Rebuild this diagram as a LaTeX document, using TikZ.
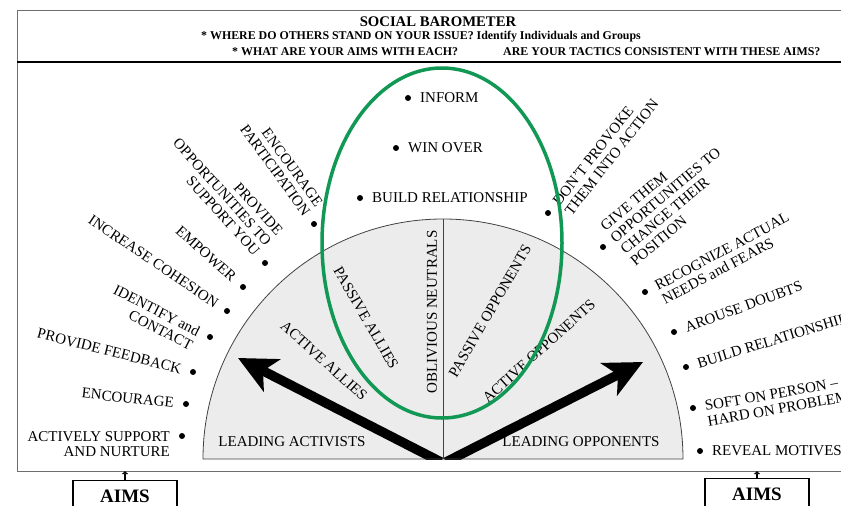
\documentclass[tikz,border=0pt]{standalone}
\usepackage{fontspec}
\setmainfont{Liberation Serif}
\usetikzlibrary{arrows.meta,calc}
\definecolor{ringgreen}{RGB}{16,152,84}
\definecolor{dialfill}{RGB}{236,236,236}
\definecolor{framegray}{RGB}{110,110,110}
\begin{document}
\begin{tikzpicture}[x=1pt,y=1pt,
  lbl/.style={font=\fontsize{15}{15.5}\selectfont, inner sep=0pt},
  hdr/.style={font=\fontsize{11.9}{13}\selectfont\bfseries, inner sep=0pt, anchor=base west},
  dotmark/.style={circle, fill=black, inner sep=0pt, minimum size=6pt},
  aimsbox/.style={draw, line width=1.1pt, anchor=north, minimum width=104pt,
    inner xsep=4pt, inner ysep=8pt, text height=13.5pt, text depth=12pt,
    font=\fontsize{19}{20}\selectfont\bfseries},
  bigarrow/.style={line width=9.5pt, -{Stealth[length=38pt,width=36pt,inset=10pt]}},
  aimsarrow/.style={line width=1.2pt, -{Latex[length=3pt,width=7pt]}}
]
% page
\fill[white] (0,0) rectangle (841,-506);
\useasboundingbox (0,0) rectangle (841,-506);

% frame and header rules
\draw[framegray, line width=0.8pt] (17,-10) -- (850,-10);
\draw[framegray, line width=0.8pt] (17,-10) -- (17,-471) -- (850,-471);
\draw[line width=2pt] (17,-62) -- (850,-62);

% header text
\node[font=\fontsize{14.7}{16}\selectfont\bfseries, inner sep=0pt, anchor=base]
  (title) at (438,-26) {SOCIAL BAROMETER};
\node[hdr] (q1) at (201,-39)
  {*\ WHERE DO OTHERS STAND ON YOUR ISSUE? Identify Individuals and Groups};
\node[hdr] (q2) at (232,-55) {*\ WHAT ARE YOUR AIMS WITH EACH?};
\node[hdr] (q3) at (503,-55) {ARE YOUR TACTICS CONSISTENT WITH THESE AIMS?};

% the dial
\coordinate (hub) at (443,-459);
\fill[dialfill] (203,-459) arc[start angle=180, end angle=0, radius=240] -- cycle;
\coordinate (apex) at (443,-219);
\draw[framegray!60!black, line width=0.7pt] (hub) -- (apex);

% arrows of the dial, trimmed at the base line
\coordinate (baseL) at (441,-462);
\coordinate (baseR) at (446,-462);
\coordinate (tipL) at (238,-358);
\coordinate (tipR) at (643,-362);
\begin{scope}
  \clip (190,-459) rectangle (700,-200);
  \draw[bigarrow] (baseL) -- (tipL);
  \draw[bigarrow] (baseR) -- (tipR);
\end{scope}
\draw[framegray!60!black, line width=0.8pt]
  (203,-459) arc[start angle=180, end angle=0, radius=240] -- cycle;

% sectors of the dial
\node[lbl, anchor=base] (leadA) at (292,-446) {LEADING ACTIVISTS};
\node[lbl, anchor=base] (leadO) at (581,-446) {LEADING OPPONENTS};
\node[lbl, rotate=-42] (actA) at (324,-361) {ACTIVE ALLIES};
\node[lbl, rotate=-60] (pasA) at (366,-318) {PASSIVE ALLIES};
\node[lbl, rotate=90] (neut) at (432,-312) {OBLIVIOUS NEUTRALS};
\node[lbl, rotate=60] (pasO) at (490,-311) {PASSIVE OPPONENTS};
\node[lbl, rotate=42] (actO) at (539,-351) {ACTIVE OPPONENTS};

% aims towards the middle
\node[dotmark] (m1) at (408,-98) {};
\node[dotmark] (m2) at (396,-148) {};
\node[dotmark] (m3) at (360,-198) {};
\node[lbl, anchor=west] (tm1) at ($(m1)+(12,0)$) {INFORM};
\node[lbl, anchor=west] (tm2) at ($(m2)+(12,0)$) {WIN OVER};
\node[lbl, anchor=west] (tm3) at ($(m3)+(12,0)$) {BUILD RELATIONSHIP};

% aims towards allies
\node[dotmark] (l1) at (314,-224) {};
\node[dotmark] (l2) at (265,-263) {};
\node[dotmark] (l3) at (243,-287) {};
\node[dotmark] (l4) at (227,-311) {};
\node[dotmark] (l5) at (210,-337) {};
\node[dotmark] (l6) at (193,-372) {};
\node[dotmark] (l7) at (186,-404) {};
\node[dotmark] (l8) at (182,-436) {};
\node[lbl, align=right, anchor=south east, rotate=-54] (tl1)
  at ($(l1)+(-54:-12)+(-144:5)$) {ENCOURAGE\\PARTICIPATION};
\node[lbl, align=right, anchor=south east, rotate=-48] (tl2)
  at ($(l2)+(-48:-12)+(-138:5)$) {PROVIDE\\OPPORTUNITIES TO\\SUPPORT YOU};
\node[lbl, anchor=east, rotate=-42] (tl3) at ($(l3)+(-42:-12)$) {EMPOWER};
\node[lbl, anchor=east, rotate=-34] (tl4) at ($(l4)+(-34:-12)$) {INCREASE COHESION};
\node[lbl, align=right, anchor=north east, rotate=-27] (tl5)
  at ($(l5)+(-27:-12)+(63:5)$) {IDENTIFY and\\CONTACT};
\node[lbl, anchor=east, rotate=-14] (tl6) at ($(l6)+(-14:-12)$) {PROVIDE FEEDBACK};
\node[lbl, anchor=east, rotate=-6] (tl7) at ($(l7)+(-6:-12)$) {ENCOURAGE};
\node[lbl, align=right, anchor=north east] (tl8)
  at ($(l8)+(-12,5)$) {ACTIVELY SUPPORT\\AND NURTURE};

% aims towards opponents
\node[dotmark] (r1) at (548,-213) {};
\node[dotmark] (r2) at (603,-247) {};
\node[dotmark] (r3) at (645,-292) {};
\node[dotmark] (r4) at (674,-332) {};
\node[dotmark] (r5) at (686,-367) {};
\node[dotmark] (r6) at (693,-408) {};
\node[dotmark] (r7) at (700,-451) {};
\node[lbl, align=left, anchor=north west, rotate=52] (tr1)
  at ($(r1)+(52:12)+(142:5)$) {DON'T PROVOKE\\THEM INTO ACTION};
\node[lbl, align=left, anchor=north west, rotate=40] (tr2)
  at ($(r2)+(40:12)+(130:20.5)$) {GIVE THEM\\OPPORTUNITIES TO\\CHANGE THEIR\\POSITION};
\node[lbl, align=left, anchor=north west, rotate=28] (tr3)
  at ($(r3)+(28:12)+(118:5)$) {RECOGNIZE ACTUAL\\NEEDS and FEARS};
\node[lbl, anchor=west, rotate=20] (tr4) at ($(r4)+(20:12)$) {AROUSE DOUBTS};
\node[lbl, anchor=west, rotate=17] (tr5) at ($(r5)+(17:12)$) {BUILD RELATIONSHIP};
\node[lbl, align=left, anchor=north west, rotate=10] (tr6)
  at ($(r6)+(10:12)+(100:5)$) {SOFT ON PERSON --\\HARD ON PROBLEM};
\node[lbl, anchor=west] (tr7) at ($(r7)+(12,0)$) {REVEAL MOTIVES};

% ring around the middle group
\draw[ringgreen, line width=3.5pt] (442,-243) ellipse [x radius=120, y radius=175];

% AIMS boxes
\node[aimsbox] (aimsL) at (125,-480) {AIMS};
\node[aimsbox] (aimsR) at (757,-478) {AIMS};
\coordinate (edgeL) at (125,-471);
\coordinate (edgeR) at (757,-471);
\draw[aimsarrow] (aimsL.north) -- (edgeL);
\draw[aimsarrow] (aimsR.north) -- (edgeR);
\end{tikzpicture}
\end{document}
